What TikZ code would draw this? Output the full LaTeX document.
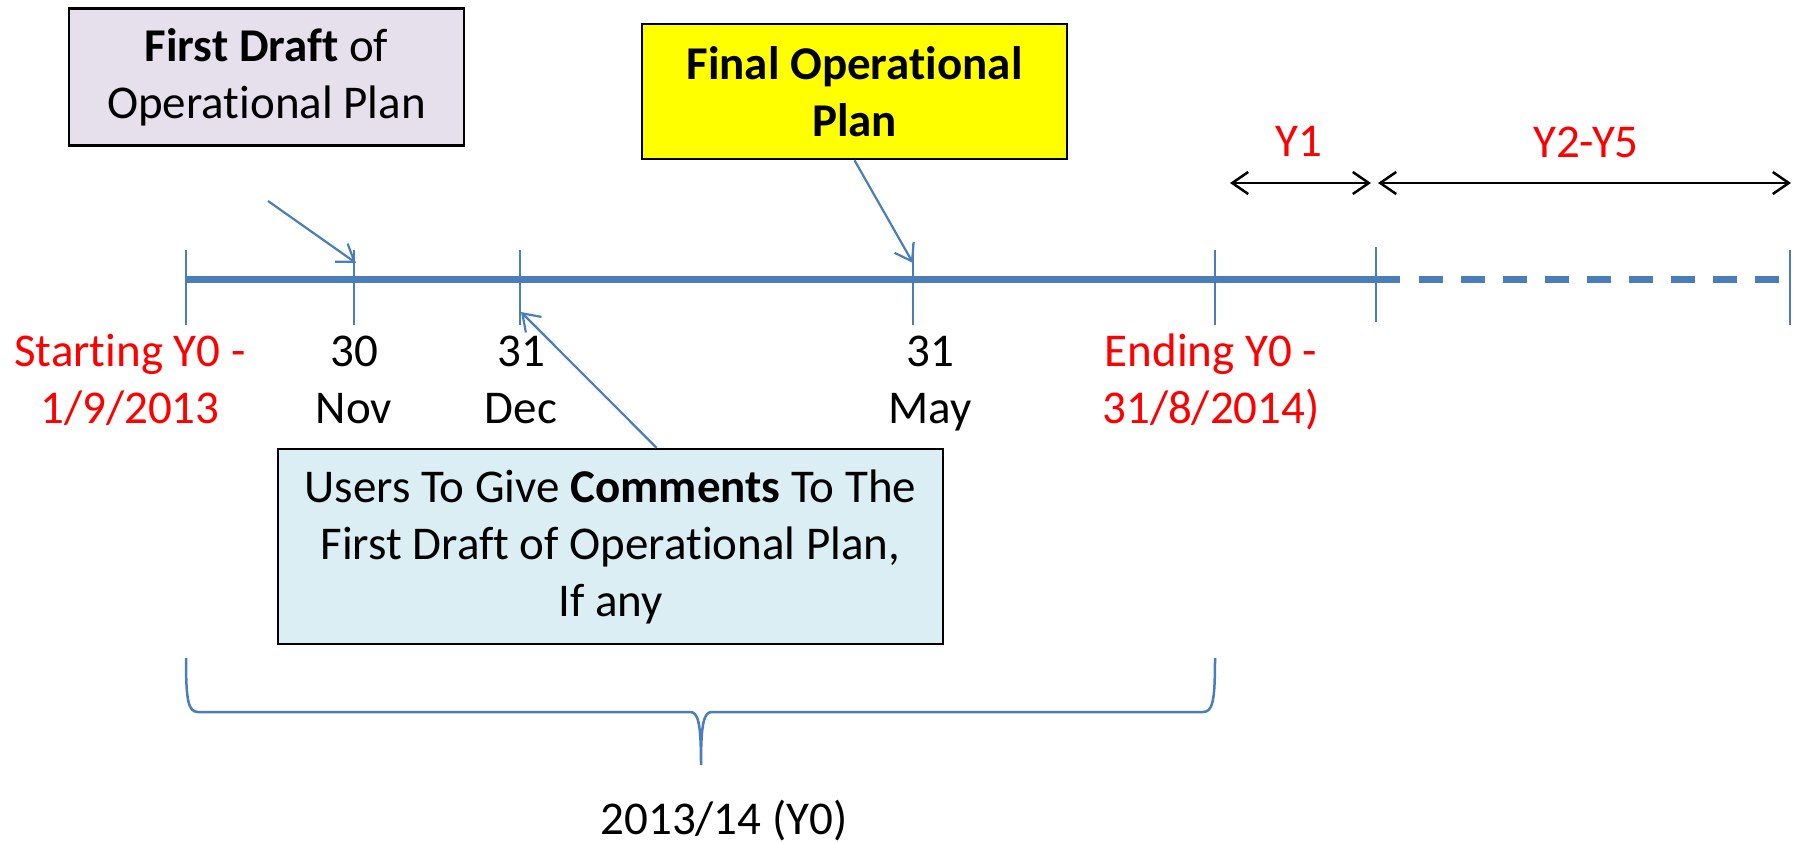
\documentclass[tikz,border=0pt]{standalone}
\usepackage{fontspec}
\setmainfont{Carlito}[Ligatures=NoCommon]
\usetikzlibrary{arrows.meta}
\definecolor{lineblue}{HTML}{4A7EBB}
\definecolor{lavender}{HTML}{E5E0EC}
\definecolor{paleaqua}{HTML}{DBEEF4}
\definecolor{brightred}{HTML}{FF0000}
\definecolor{brightyellow}{HTML}{FFFF00}
\tikzset{
  every node/.style={font=\fontsize{47}{57}\selectfont},
  box/.style={draw=black, line width=2.5pt, align=center, inner sep=0pt},
  tick/.style={draw=lineblue, line width=2.5pt},
  pointer/.style={draw=lineblue, line width=2.2pt, -{Straight Barb[length=16pt,width=22pt]}},
  span/.style={draw=black, line width=2.5pt, {Straight Barb[length=16pt,width=22pt]}-{Straight Barb[length=16pt,width=22pt]}},
  datelabel/.style={align=center, anchor=base, inner sep=0pt},
  redlabel/.style={datelabel, text=brightred},
}
\begin{document}
\begin{tikzpicture}[x=1pt,y=1pt]
\useasboundingbox (0,0) rectangle (1802,-842);

% main timeline: solid year 0 and first year, dashed later years
\draw[lineblue, line width=7pt] (186,-280) -- (1400,-280);
\draw[lineblue, line width=7pt, dash pattern=on 24pt off 18pt] (1419,-280) -- (1779,-280);

% tick marks
\foreach \x/\t/\b in {186/250/325, 354/250/325, 520/250/325, 913/244/325,
                      1215/250/325, 1376/247/322, 1790/250/325}
  \draw[tick] (\x,-\t) -- (\x,-\b);

% arrow end points on the timeline
\coordinate (fdtail) at (268,-201);
\coordinate (novtip) at (356,-263);
\coordinate (maytip) at (913,-263);
\coordinate (dectip) at (521,-312);

% milestone boxes
\node[box, fill=lavender, minimum width=395pt, minimum height=137pt] (fd) at (266.5,-77)
  {\textbf{First Draft} of\\Operational Plan};
\node[box, fill=brightyellow, minimum width=425pt, minimum height=135pt] (fin) at (854.5,-91.5)
  {\textbf{Final Operational}\\\textbf{Plan}};
\node[box, fill=paleaqua, minimum width=665pt, minimum height=195pt] (cm) at (610.5,-546.5)
  {Users To Give \textbf{Comments} To The\\First Draft of Operational Plan,\\If any};

% pointers
\draw[pointer] (fdtail) -- (novtip);
\draw[pointer] (fin.south) -- (maytip);
\draw[pointer] ([xshift=46pt]cm.north) -- (dectip);

% dates below the timeline (anchored on the baseline of the second line)
\node[redlabel] (start) at (130,-423) {Starting Y0 -\\1/9/2013};
\node[datelabel] (nov) at (354,-423) {30\\Nov};
\node[datelabel] (dec) at (521,-423) {31\\Dec};
\node[datelabel] (may) at (930,-423) {31\\May};
\node[redlabel] (end) at (1211,-423) {Ending Y0 -\\31/8/2014)};

% later years
\coordinate (y1a) at (1230,-183);
\coordinate (y1b) at (1371,-183);
\coordinate (y2a) at (1378,-183);
\coordinate (y2b) at (1791,-183);
\draw[span] (y1a) -- (y1b);
\draw[span] (y2a) -- (y2b);
\node[redlabel] (y1) at (1299,-157) {Y1};
\node[redlabel] (y25) at (1586,-158) {Y2-Y5};

% brace under year 0
\draw[lineblue, line width=2.5pt]
  (186,-658) .. controls (186,-700) and (188,-712) .. (198,-712)
  -- (690,-712) .. controls (698,-712) and (701,-722) .. (701,-765)
  .. controls (701,-722) and (704,-712) .. (712,-712)
  -- (1203,-712) .. controls (1213,-712) and (1215,-700) .. (1215,-658);
\node[datelabel] (year) at (724,-834) {2013/14 (Y0)};
\end{tikzpicture}
\end{document}
